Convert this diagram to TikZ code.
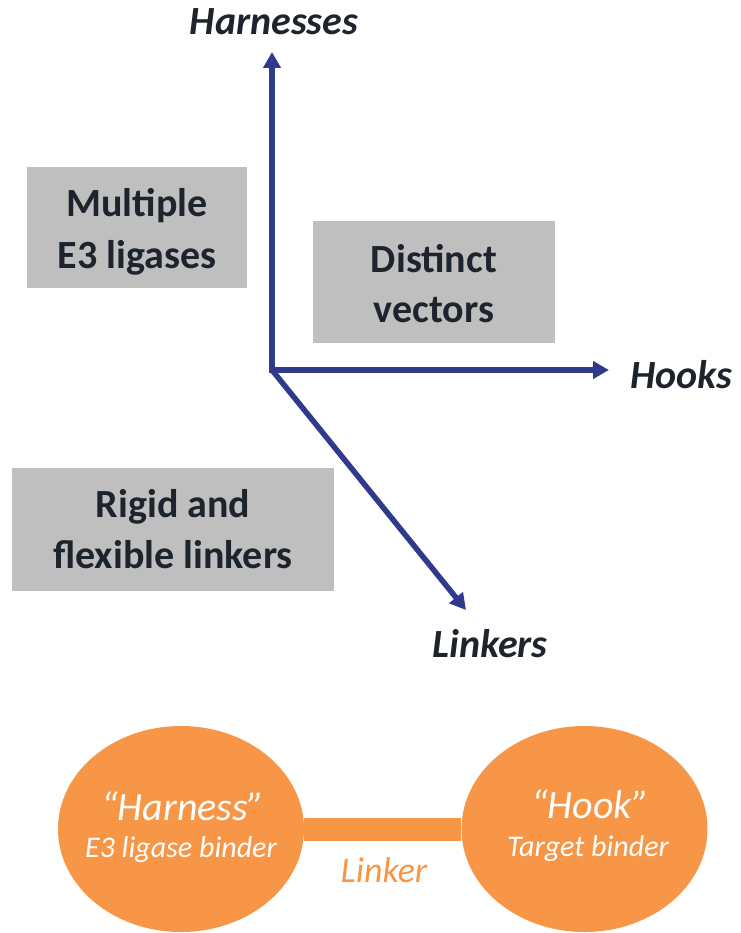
\documentclass[tikz,border=0pt]{standalone}
\usepackage{fontspec}
\setmainfont{Carlito}
\usetikzlibrary{arrows.meta,shapes.geometric}
\definecolor{axisblue}{RGB}{47,58,140}
\definecolor{boxgray}{RGB}{191,191,191}
\definecolor{txtdark}{RGB}{30,36,46}
\definecolor{orng}{RGB}{247,150,70}
\begin{document}
\begin{tikzpicture}[x=1pt,y=-1pt,
  graybox/.style={fill=boxgray, draw=none, inner sep=0pt},
  boxtext/.style={text=txtdark, inner sep=0pt, anchor=base, font=\fontsize{40}{48}\selectfont\bfseries},
  axislabel/.style={text=txtdark, font=\fontsize{40}{46}\selectfont\bfseries\itshape, inner sep=0pt},
  axisarrow/.style={draw=axisblue, line width=5.5pt, line join=miter,
    arrows={-{Triangle[width=17pt,length=16pt]}}},
  blob/.style={ellipse, fill=orng, draw=none, inner sep=0pt, minimum width=246pt, minimum height=206pt},
  blobtitle/.style={text=white, inner sep=0pt, anchor=base, font=\fontsize{40}{44}\selectfont\itshape},
  blobsub/.style={text=white, inner sep=0pt, anchor=base, font=\fontsize{30}{34}\selectfont\itshape},
  linkerlabel/.style={text=orng, inner sep=0pt, anchor=base, font=\fontsize{36}{40}\selectfont\itshape}
]
\useasboundingbox (0,0) rectangle (740,933);

% gray boxes
\node[graybox, minimum width=220pt, minimum height=121pt] (b1) at (137,227.5) {};
\node[boxtext] (b1a) at (137,217) {Multiple};
\node[boxtext] (b1b) at (137,268) {E3 ligases};
\node[graybox, minimum width=242pt, minimum height=122pt] (b2) at (434,282) {};
\node[boxtext] (b2a) at (434,272) {Distinct};
\node[boxtext] (b2b) at (434,322) {vectors};
\node[graybox, minimum width=322pt, minimum height=123pt] (b3) at (173,529) {};
\node[boxtext] (b3a) at (173,517) {Rigid and};
\node[boxtext] (b3b) at (173,568) {flexible linkers};

% axes
\coordinate (O) at (272,370);
\coordinate (up) at (272,52);
\coordinate (rt) at (609,370);
\coordinate (dg) at (466,610);
\draw[axisarrow, arrows={{Triangle[width=17pt,length=16pt]}-{Triangle[width=17pt,length=16pt]}}] (up) -- (O) -- (rt);
\draw[axisarrow] (O) -- (dg);

\node[axislabel, anchor=base] (lh) at (274,35) {Harnesses};
\node[axislabel, anchor=base west] (lk) at (630,388) {Hooks};
\node[axislabel, anchor=base] (ll) at (490,657) {Linkers};

% molecule
\node[blob] (harness) at (181,829) {};
\node[blob] (hook) at (584.5,829) {};
\draw[orng, line width=23pt] (harness.east) -- (hook.west);

\node[blobtitle] (ht) at (183,820) {“Harness”};
\node[blobsub] (hs) at (181,857) {E3 ligase binder};
\node[blobtitle] (kt) at (590,818) {“Hook”};
\node[blobsub] (ks) at (588,856) {Target binder};
\node[linkerlabel] (lt) at (384,882) {Linker};
\end{tikzpicture}
\end{document}
